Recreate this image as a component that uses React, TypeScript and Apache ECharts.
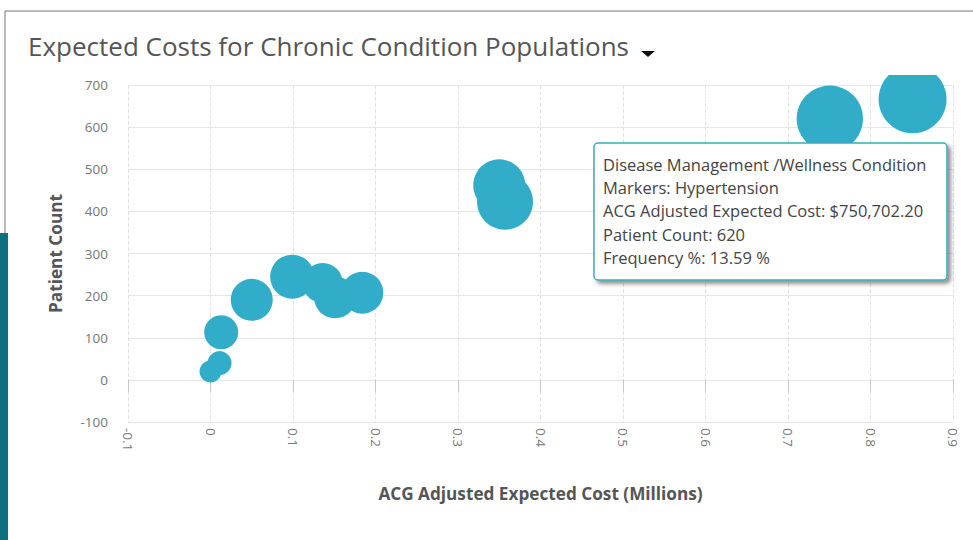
import React, { useEffect, useRef } from "react";
import * as echarts from "echarts";

const costMillions = [0.0, 0.011, 0.013, 0.05, 0.099, 0.136, 0.151, 0.184, 0.35, 0.357, 0.7507, 0.851];
const patientCount = [20, 40, 113, 190, 245, 230, 196, 207, 462, 423, 620, 666];
const frequencyPct = [1.49, 1.78, 3.57, 5.44, 5.98, 4.94, 5.44, 5.44, 8.35, 9.68, 13.59, 14.27];
const xTicks = { min: -0.1, max: 0.9, interval: 0.1 };
const yTicks = { min: -100, max: 700, interval: 100 };
const tooltipLines = [
  "Disease Management /Wellness Condition",
  "Markers: Hypertension",
  "ACG Adjusted Expected Cost: $750,702.20",
  "Patient Count: 620",
  "Frequency %: 13.59 %",
];

export default function App() {
  const ref = useRef<HTMLDivElement>(null);
  useEffect(() => {
    const chart = echarts.init(ref.current!, null, { renderer: "svg" });
    const data = costMillions.map((c, i) => [c, patientCount[i], frequencyPct[i]]);
    const font = "'Open Sans', sans-serif";
    chart.setOption({
      animation: false,
      backgroundColor: "#ffffff",
      textStyle: { fontFamily: font },
      grid: { left: 128, right: 20, top: 85, bottom: 118 },
      xAxis: {
        type: "value",
        min: xTicks.min,
        max: xTicks.max,
        interval: xTicks.interval,
        name: "ACG Adjusted Expected Cost (Millions)",
        nameLocation: "middle",
        nameGap: 63,
        nameTextStyle: { fontFamily: font, fontSize: 17.2, fontWeight: "bold", color: "#555" },
        axisLine: { show: true, lineStyle: { color: "#e6e6e6" } },
        axisTick: { show: true, length: 12, lineStyle: { color: "#c8c8c8" } },
        axisLabel: {
          rotate: -90,
          color: "#777",
          fontSize: 13.5,
          margin: 6,
          formatter: (v: number) => String(Math.round(v * 10) / 10),
        },
        splitLine: { show: true, lineStyle: { color: "#e2e2e2", type: "dashed" } },
      },
      yAxis: {
        type: "value",
        min: yTicks.min,
        max: yTicks.max,
        interval: yTicks.interval,
        name: "Patient Count",
        nameLocation: "middle",
        nameGap: 64,
        nameTextStyle: { fontFamily: font, fontSize: 17.2, fontWeight: "bold", color: "#555" },
        axisLine: { show: false },
        axisTick: { show: false },
        axisLabel: { color: "#777", fontSize: 13.5, margin: 20 },
        splitLine: { show: true, lineStyle: { color: "#e6e6e6" } },
      },
      series: [
        {
          type: "scatter",
          data,
          clip: false,
          symbolSize: (d: number[]) => Math.sqrt(d[2]) * 18,
          itemStyle: { color: "#32adc9", opacity: 1 },
        },
      ],
      graphic: [
        { type: "rect", shape: { x: 860, y: 12, width: 100, height: 63 }, style: { fill: "#fff" }, z: 50 },
        { type: "line", shape: { x1: 5, y1: 11, x2: 973, y2: 11 }, style: { stroke: "#777", lineWidth: 1 }, z: 60 },
        { type: "line", shape: { x1: 5, y1: 11, x2: 5, y2: 233 }, style: { stroke: "#777", lineWidth: 1 }, z: 60 },
        { type: "rect", shape: { x: 0, y: 233, width: 8, height: 307 }, style: { fill: "#0e6f80" }, z: 60 },
        {
          type: "text",
          left: 28,
          top: 33,
          style: { text: "Expected Costs for Chronic Condition Populations", fontFamily: font, fontSize: 26, fill: "#555" },
          z: 60,
        },
        { type: "polygon", shape: { points: [[641, 51], [655, 51], [648, 57]] }, style: { fill: "#111" }, z: 60 },
        {
          type: "group",
          z: 100,
          children: [
            {
              type: "rect",
              shape: { x: 594, y: 143, width: 353, height: 137, r: 4 },
              style: {
                fill: "#fff",
                stroke: "#3aa9bf",
                lineWidth: 1.5,
                shadowBlur: 4,
                shadowOffsetX: 3,
                shadowOffsetY: 3,
                shadowColor: "rgba(0,0,0,0.45)",
              },
              z: 100,
            },
            ...tooltipLines.map((t, i) => ({
              type: "text",
              x: 603,
              y: 156 + i * 23.2,
              style: { text: t, fontFamily: font, fontSize: 16.5, fill: "#444" },
              z: 101,
            })),
          ],
        },
      ],
    });
    return () => chart.dispose();
  }, []);
  return <div ref={ref} style={{ width: 973, height: 540, position: "absolute", left: 0, top: 0 }} />;
}
